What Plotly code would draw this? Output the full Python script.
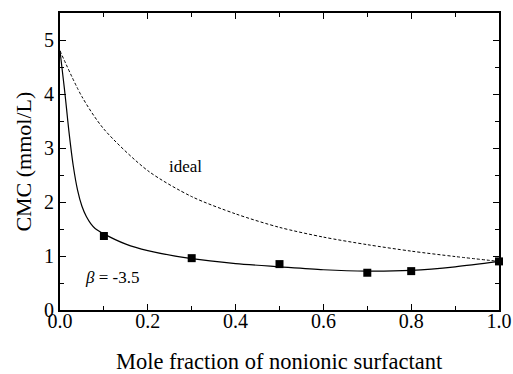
import plotly.graph_objects as go

# Experimental CMC values
exp_x = [0.1, 0.3, 0.5, 0.7, 0.8, 1.0]
exp_cmc = [1.37, 0.96, 0.85, 0.69, 0.72, 0.90]

# Regular solution fit (beta = -3.5)
fit_x = [0.0, 0.005, 0.01, 0.015, 0.02, 0.03, 0.04, 0.05, 0.06, 0.07, 0.08, 0.1, 0.15, 0.2, 0.3, 0.4, 0.5, 0.6, 0.7, 0.8, 0.9, 1.0]
fit_cmc = [4.8, 4.45, 4.1, 3.72, 3.33, 2.68, 2.22, 1.92, 1.73, 1.6, 1.51, 1.41, 1.22, 1.10, 0.95, 0.86, 0.80, 0.745, 0.72, 0.735, 0.80, 0.90]

# Ideal mixing curve
ideal_x = [0.0, 0.05, 0.1, 0.2, 0.3, 0.4, 0.5, 0.6, 0.7, 0.8, 0.9, 1.0]
ideal_cmc = [4.8, 3.95, 3.35, 2.58, 2.10, 1.78, 1.53, 1.35, 1.21, 1.09, 0.99, 0.90]

x_ticks = [0.0, 0.2, 0.4, 0.6, 0.8, 1.0]
x_ticklabels = ["0.0", "0.2", "0.4", "0.6", "0.8", "1.0"]
y_ticks = [0, 1, 2, 3, 4, 5]
y_ticklabels = ["0", "1", "2", "3", "4", "5"]

x_title = "Mole fraction of nonionic surfactant"
y_title = "CMC (mmol/L)"

FONT = "Liberation Serif"

fig = go.Figure()
fig.add_trace(go.Scatter(x=ideal_x, y=ideal_cmc, mode="lines",
                         line=dict(color="black", width=1, dash="3px,2px", shape="spline", smoothing=0.8),
                         showlegend=False))
fig.add_trace(go.Scatter(x=fit_x, y=fit_cmc, mode="lines",
                         line=dict(color="black", width=1.2, shape="spline", smoothing=0.8),
                         showlegend=False))
fig.add_trace(go.Scatter(x=exp_x, y=exp_cmc, mode="markers",
                         marker=dict(symbol="square", size=8, color="black"),
                         cliponaxis=False, showlegend=False))

fig.add_annotation(x=0.285, y=2.65, text="ideal", showarrow=False,
                   font=dict(family=FONT, size=17, color="black"))
fig.add_annotation(x=0.052, y=0.61, xanchor="left", text="<i>β</i> = -3.5", showarrow=False,
                   font=dict(family=FONT, size=17, color="black"))

# axis titles as annotations (precise placement)
fig.add_annotation(xref="paper", yref="paper", x=0.5, y=-0.172, xanchor="center", yanchor="middle",
                   text=x_title, showarrow=False, font=dict(family=FONT, size=22.5, color="black"))
fig.add_annotation(xref="paper", yref="paper", x=-0.084, y=0.5, xanchor="center", yanchor="middle",
                   text=y_title, textangle=-90, showarrow=False,
                   font=dict(family=FONT, size=22, color="black"))

fig.update_layout(
    width=513, height=374,
    margin=dict(l=60, r=14, t=13, b=64),
    plot_bgcolor="white", paper_bgcolor="white",
    font=dict(family=FONT, size=20, color="black"),
)
fig.update_xaxes(range=[0, 1], tickvals=x_ticks, ticktext=x_ticklabels,
                 ticks="inside", ticklen=6, tickwidth=1, tickcolor="black",
                 minor=dict(dtick=0.1, ticks="inside", ticklen=4, tickcolor="black"),
                 showline=True, linewidth=1.8, linecolor="black", mirror="ticks",
                 showgrid=False, zeroline=False, automargin=False, ticklabelstandoff=-8)
fig.update_yaxes(range=[0, 5.5], tickvals=y_ticks, ticktext=y_ticklabels,
                 ticks="inside", ticklen=6, tickwidth=1, tickcolor="black",
                 minor=dict(dtick=0.5, ticks="inside", ticklen=4, tickcolor="black"),
                 showline=True, linewidth=1.8, linecolor="black", mirror="ticks",
                 showgrid=False, zeroline=False, automargin=False)

fig.write_html("out.html", config={"displayModeBar": False},
               post_script="document.body.style.margin='0';")
